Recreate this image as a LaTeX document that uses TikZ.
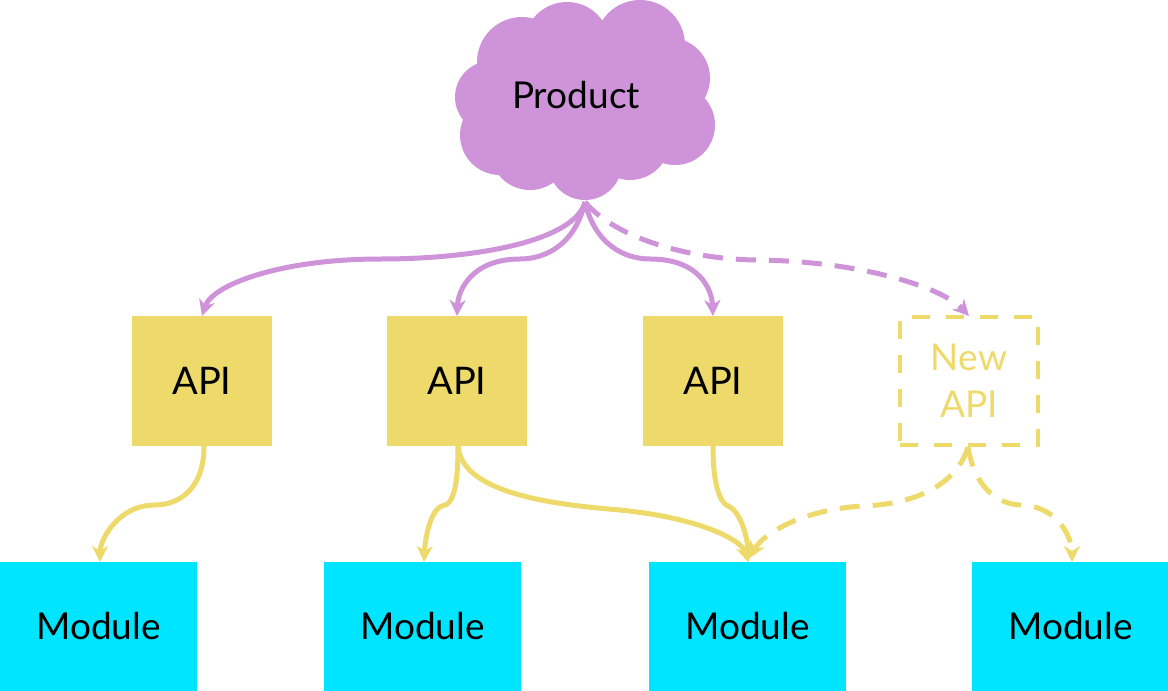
\documentclass[tikz,border=0pt]{standalone}
\usepackage{fontspec}
\setmainfont{Lato}
\usetikzlibrary{arrows.meta}
\definecolor{cpurple}{HTML}{CE93D8}
\definecolor{cyellow}{HTML}{EDDA6A}
\definecolor{ccyan}{HTML}{00E5FF}
\tikzset{
  apibox/.style={fill=cyellow, minimum width=140pt, minimum height=130pt, inner sep=0pt, font=\fontsize{38}{46}\selectfont},
  newbox/.style={draw=cyellow, line width=4pt, dash pattern=on 18pt off 16pt, minimum width=138pt, minimum height=128pt, inner sep=0pt, text=cyellow, align=center, font=\fontsize{37}{47}\selectfont},
  modbox/.style={fill=ccyan, minimum width=197pt, minimum height=129pt, inner sep=0pt, font=\fontsize{37}{44}\selectfont},
  parrow/.style={draw=cpurple, line width=5pt, -{Stealth[length=16pt,width=16pt,inset=5pt]}},
  yarrow/.style={draw=cyellow, line width=5pt, -{Stealth[length=16pt,width=16pt,inset=5pt]}},
  dashline/.style={dash pattern=on 20pt off 13pt},
}
\begin{document}
\begin{tikzpicture}[x=1pt,y=-1pt]
\useasboundingbox (0,0) rectangle (1168,691);
% cloud
\fill[cpurple] (585,100) ellipse (100 and 75);
\foreach \cx/\cy/\r in {522/62/45, 567/45/43, 640/45/45, 670/78/40, 675/125/40, 630/140/40, 585/163/37, 530/150/40, 500/135/40, 491/97/36, 560/100/60, 620/100/60}
  \fill[cpurple] (\cx,\cy) circle (\r);
\node[font=\fontsize{37}{44}\selectfont] (product) at (576,95) {Product};
\coordinate (ptop) at (585,202);
% API boxes
\node[apibox] (api1) at (202,381) {API};
\node[apibox] (api2) at (457,381) {API};
\node[apibox] (api3) at (713,381) {API};
\node[newbox] (newapi) at (969,381) {New\\API};
% modules
\node[modbox] (m1) at (98.5,626.5) {Module};
\node[modbox] (m2) at (422.5,626.5) {Module};
\node[modbox] (m3) at (747.5,626.5) {Module};
\node[modbox] (m4) at (1070.5,626.5) {Module};
% purple arrows
\draw[parrow] (ptop) .. controls (575,240) and (480,259) .. (380,259) .. controls (280,259) and (212,285) .. (202,316);
\draw[parrow] (ptop) .. controls (575,245) and (545,259) .. (520,259) .. controls (472,259) and (458,290) .. (457,316);
\draw[parrow] (ptop) .. controls (595,245) and (625,259) .. (650,259) .. controls (700,259) and (712,290) .. (713,316);
\draw[parrow,dashline] (ptop) .. controls (615,238) and (690,260) .. (760,260) .. controls (870,262) and (945,290) .. (969,316);
% yellow arrows
\draw[yarrow] (204,446) .. controls (204,490) and (178,505) .. (155,505) .. controls (118,505) and (100,540) .. (100,562);
\draw[yarrow] (458,446) .. controls (458,480) and (455,505) .. (442,506) .. controls (430,510) and (425,540) .. (424,562);
\draw[yarrow] (458,446) .. controls (462,495) and (560,505) .. (620,510) .. controls (700,518) and (742,540) .. (748,562);
\draw[yarrow] (713,446) .. controls (713,480) and (718,503) .. (730,507) .. controls (742,515) and (748,540) .. (748,562);
\draw[yarrow,dashline] (968,447) .. controls (955,490) and (905,505) .. (862,506) .. controls (800,510) and (762,535) .. (750,558);
\draw[yarrow,dashline] (968,447) .. controls (975,490) and (1000,505) .. (1022,505) .. controls (1060,507) and (1072,540) .. (1072,562);
\end{tikzpicture}
\end{document}
